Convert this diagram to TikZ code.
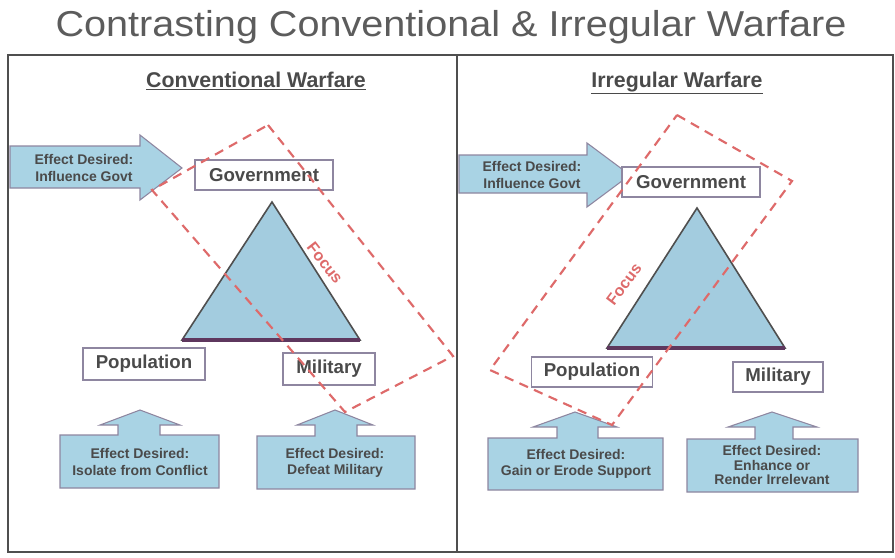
\documentclass[tikz,border=0pt]{standalone}
\usepackage{fontspec}
\setmainfont{Liberation Sans}
\usetikzlibrary{calc}
\definecolor{bluefill}{HTML}{A9D3E4}
\definecolor{trifill}{HTML}{A3CCDF}
\definecolor{txt}{HTML}{4A4A4A}
\definecolor{frame}{HTML}{4F4F4F}
\definecolor{boxline}{HTML}{8E86A0}
\definecolor{focusred}{HTML}{DE6A6A}
\tikzset{
  lblbox/.style={draw=boxline, line width=1pt, fill=white, inner sep=0pt, text=txt, font=\bfseries\fontsize{14}{16}\selectfont},
  heading/.style={text=txt, font=\bfseries\fontsize{16}{18}\selectfont},
  effect/.style={text=txt, font=\bfseries\fontsize{10.5}{12.5}\selectfont, align=center},
  blockarrow/.style={fill=bluefill, draw=boxline, line width=0.8pt},
  tri/.style={fill=trifill, draw=frame, line width=1.2pt, line join=miter},
  tribase/.style={draw=frame!70!violet, line width=2.4pt},
  focusline/.style={draw=focusred, line width=1.6pt, dash pattern=on 7pt off 5pt},
  focustext/.style={text=focusred, font=\bfseries\fontsize{12}{13}\selectfont},
  panel/.style={draw=frame, line width=2.2pt}
}
\begin{document}
\begin{tikzpicture}[x=0.75pt,y=-0.75pt]
\useasboundingbox (0,0) rectangle (895,557);
\fill[white] (0,0) rectangle (895,557);
% title
\node[anchor=base, text=txt!90!white, font=\fontsize{27}{30}\selectfont, xscale=1.1] (title) at (451,36) {Contrasting Conventional \& Irregular Warfare};
% panels
\draw[panel] (8,55) rectangle (457,552);
\draw[panel] (457,55) rectangle (893,552);
\node[heading] (h1) at (256,81) {\underline{Conventional Warfare}};
\node[heading] (h2) at (677,83) {\underline{Irregular Warfare}};

% ---------- left panel ----------
\draw[blockarrow] (10,146) -- (140,146) -- (140,135) -- (182,168) -- (140,200) -- (140,188) -- (10,188) -- cycle;
\node[effect] (e1) at (84,168) {Effect Desired:\\Influence Govt};
\draw[tri] (272,202) -- (360,340) -- (182,340) -- cycle;
\draw[tribase] (182,340) -- (360,340);
\node[lblbox, minimum width=138*0.75pt, minimum height=30*0.75pt] (gov1) at (264,175) {Government};
\node[lblbox, minimum width=122*0.75pt, minimum height=32*0.75pt] (pop1) at (144,364) {Population};
\node[lblbox, minimum width=92*0.75pt, minimum height=32*0.75pt] (mil1) at (329,369) {Military};
% bottom block arrows
\draw[blockarrow] (60,435) -- (118,435) -- (118,425) -- (100,425) -- (140,410) -- (180,425) -- (160,425) -- (160,435) -- (219,435) -- (219,488) -- (60,488) -- cycle;
\node[effect] (e2) at (140,462) {Effect Desired:\\Isolate from Conflict};
\draw[blockarrow] (257,436) -- (315,436) -- (315,425) -- (297,425) -- (335,410) -- (373,425) -- (357,425) -- (357,436) -- (415,436) -- (415,489) -- (257,489) -- cycle;
\node[effect] (e3) at (335,463) {Effect Desired:\\Defeat Military};
% focus
\coordinate (fT1) at (268,125);
\coordinate (fR1) at (453,356);
\coordinate (fB1) at (345,412);
\coordinate (fL1) at (152,190);
\draw[focusline] (fT1) -- (fR1) -- (fB1) -- (fL1) -- cycle;
\node[focustext, rotate=-52] (foc1) at (325,263) {Focus};

% ---------- right panel ----------
\draw[blockarrow] (459,155) -- (587,155) -- (587,143) -- (630,175) -- (587,207) -- (587,193) -- (459,193) -- cycle;
\node[effect] (e4) at (532,175) {Effect Desired:\\Influence Govt};
\draw[tri] (697,208) -- (785,348) -- (607,348) -- cycle;
\draw[tribase] (607,348) -- (785,348);
\node[lblbox, minimum width=138*0.75pt, minimum height=30*0.75pt] (gov2) at (691,182) {Government};
\node[lblbox, minimum width=121*0.75pt, minimum height=30*0.75pt] (pop2) at (592,372) {Population};
\node[lblbox, minimum width=90*0.75pt, minimum height=30*0.75pt] (mil2) at (778,377) {Military};
\draw[blockarrow] (488,438) -- (557,438) -- (557,427) -- (533,427) -- (575,412) -- (617,427) -- (598,427) -- (598,438) -- (663,438) -- (663,490) -- (488,490) -- cycle;
\node[effect] (e5) at (576,464) {Effect Desired:\\Gain or Erode Support};
\draw[blockarrow] (687,439) -- (755,439) -- (755,427) -- (728,427) -- (772,412) -- (817,427) -- (793,427) -- (793,439) -- (858,439) -- (858,492) -- (687,492) -- cycle;
\node[effect, font=\bfseries\fontsize{10.5}{11.2}\selectfont] (e6) at (772,465) {Effect Desired:\\Enhance or\\Render Irrelevant};
\coordinate (fT2) at (677,115);
\coordinate (fR2) at (792,181);
\coordinate (fB2) at (612,425);
\coordinate (fL2) at (490,370);
\draw[focusline] (fT2) -- (fR2) -- (fB2) -- (fL2) -- cycle;
\node[focustext, rotate=53] (foc2) at (624,284) {Focus};
\end{tikzpicture}
\end{document}
